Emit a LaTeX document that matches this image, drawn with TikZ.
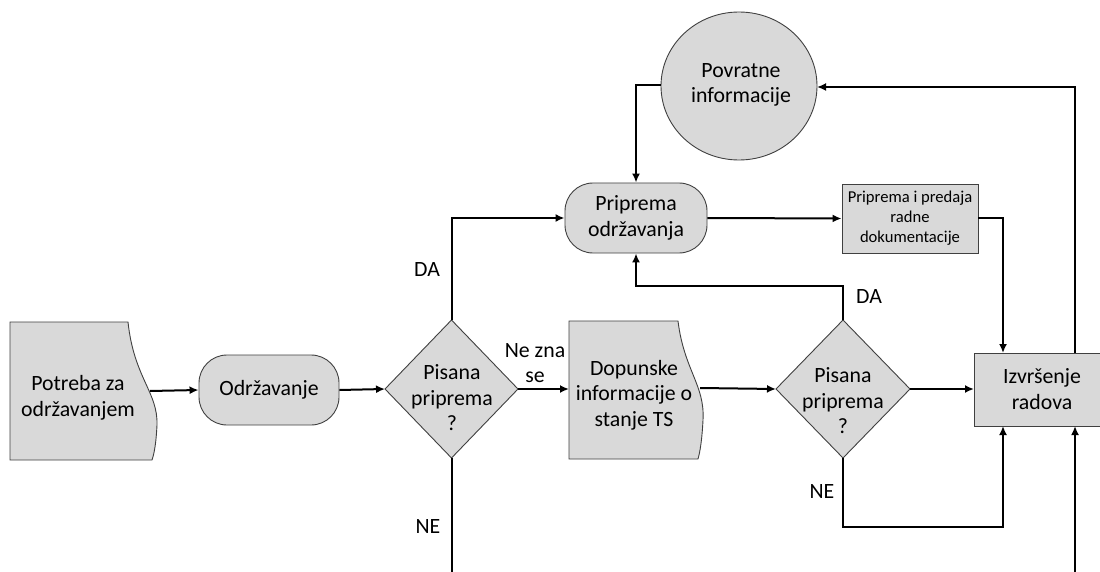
\documentclass[tikz,border=0pt]{standalone}
\usepackage{fontspec}
\setmainfont{Carlito}
\usetikzlibrary{arrows.meta}
\definecolor{fillg}{HTML}{D9D9D9}
\definecolor{edgeg}{HTML}{404040}
\begin{document}
\begin{tikzpicture}[x=1pt,y=-1pt,
  shp/.style={draw=edgeg,line width=0.9pt,fill=fillg},
  txt/.style={align=center,font=\fontsize{21.8}{25.5}\selectfont,inner sep=0pt},
  smalltxt/.style={align=center,font=\fontsize{16.6}{20}\selectfont,inner sep=0pt},
  conn/.style={line width=2pt,-{Latex[length=9pt,width=8pt]}},
  plain/.style={line width=2pt}]
\clip (0,0) rectangle (1100,572);
\fill[white] (0,0) rectangle (1100,572);
% Potreba za odrzavanjem (document shape)
\path[shp] (10,322) -- (128,322) .. controls (134,378) and (158,392) .. (157,425)
  .. controls (156,445) and (154,454) .. (152,460) -- (10,460) -- cycle;
\node[txt] (potreba) at (78,398) {Potreba za\\održavanjem};
\coordinate (potR) at (150,391);
% Odrzavanje
\node[shp,rounded corners=28pt,minimum width=140pt,minimum height=70pt,txt] (odr) at (269,390) {Održavanje};
% Diamond 1
\path[shp] (385,389) -- (451.5,320) -- (518,389) -- (451.5,458) -- cycle;
\node[txt] (d1) at (452,398) {Pisana\\priprema\\?};
\coordinate (d1L) at (385,389);
\coordinate (d1R) at (518,389);
\coordinate (d1T) at (451.5,320);
\coordinate (d1B) at (451.5,458);
% Dopunske informacije
\path[shp] (569,321) -- (678,321) .. controls (684,370) and (705,385) .. (703,420)
  .. controls (702,440) and (700,452) .. (698,459) -- (569,459) -- cycle;
\node[txt] (dop) at (634,395) {Dopunske\\informacije o\\stanje TS};
\coordinate (dopL) at (569,389);
\coordinate (dopR) at (700,388);
% Diamond 2
\path[shp] (776,389) -- (843,320) -- (910,389) -- (843,458) -- cycle;
\node[txt] (d2) at (843,401) {Pisana\\priprema\\?};
\coordinate (d2L) at (776,389);
\coordinate (d2R) at (910,389);
\coordinate (d2T) at (843,320);
\coordinate (d2B) at (843,458);
% Izvrsenje radova
\path[shp] (974,353) rectangle (1120,426);
\node[txt] (izv) at (1042,389) {Izvršenje\\radova};
\coordinate (izvL) at (974,389);
\coordinate (izvT1) at (1003,353);
\coordinate (izvT2) at (1075,353);
\coordinate (izvB1) at (1003,426);
\coordinate (izvB2) at (1075,426);
% Priprema odrzavanja
\node[shp,rounded corners=28pt,minimum width=142pt,minimum height=70pt,txt] (pripr) at (636,218) {Priprema\\održavanja};
% Priprema i predaja
\node[shp,minimum width=136pt,minimum height=69pt,smalltxt] (dok) at (910,218.5) {Priprema i predaja\\radne\\dokumentacije};
% Povratne informacije
\path[shp] (739,86) ellipse [x radius=78, y radius=74];
\node[txt] (povr) at (741,85) {Povratne\\informacije};
\coordinate (povL) at (661,85);
\coordinate (povR) at (817,87);
% bottom ends
\coordinate (d1End) at (451.5,580);
\coordinate (rEnd) at (1075,580);
% connectors
\draw[conn] (potR) -- (odr.west);
\draw[conn] (odr.east) -- (d1L);
\draw[conn] (d1R) -- (dopL);
\draw[conn] (dopR) -- (d2L);
\draw[conn] (d2R) -- (izvL);
\draw[conn] (d1T) |- (pripr.west);
\draw[plain] (d1B) -- (d1End);
\draw[conn] (pripr.east) -- (dok.west);
\draw[conn] (dok.east) -| (izvT1);
\draw[conn] (izvT2) |- (povR);
\draw[conn] (povL) -| (pripr.north);
\draw[conn] (d2T) -- (843,286) -| (pripr.south);
\draw[conn] (d2B) -- (843,527) -| (izvB1);
\draw[conn] (rEnd) -- (izvB2);
% labels
\node[txt] (lda1) at (427,270) {DA};
\node[txt] (lne1) at (428,527) {NE};
\node[txt] (lnz) at (535,363) {Ne zna\\se};
\node[txt] (lda2) at (869,297) {DA};
\node[txt] (lne2) at (822,492) {NE};
\end{tikzpicture}
\end{document}
